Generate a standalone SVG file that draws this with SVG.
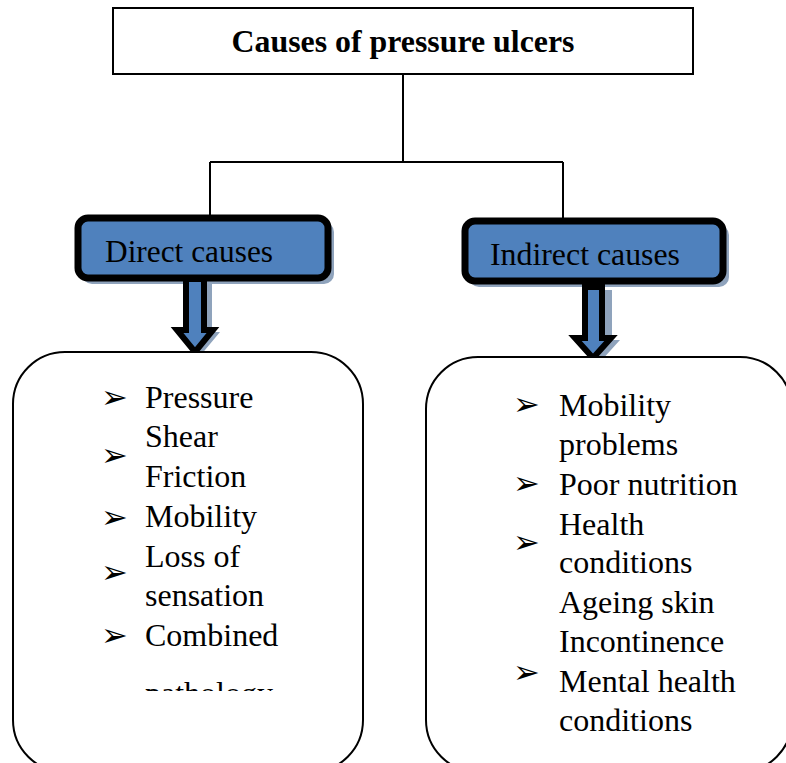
<svg xmlns="http://www.w3.org/2000/svg" width="786" height="763" viewBox="0 0 786 763">
<style>
.t{font-family:"Liberation Serif","Times New Roman","DejaVu Serif",serif;font-size:32px;fill:#000}
.b{font-family:"DejaVu Sans",sans-serif;font-size:32px;fill:#000}
.shadow{fill:#8FA3BC}
.blue{fill:#4F81BD;stroke:#000;stroke-width:7}
.conn{fill:none;stroke:#000;stroke-width:2}
.list{fill:#fff;stroke:#000;stroke-width:2}
</style>
<defs>
<clipPath id="clipL"><rect x="0" y="0" width="786" height="691"/></clipPath>
</defs>
<rect width="786" height="763" fill="#fff"/>
<g id="connectors">
<path class="conn" d="M403 74V162M210 162H563M210 162V216M563 162V219"/>
</g>
<g id="title">
<rect x="113" y="8" width="580" height="66" fill="#fff" stroke="#000" stroke-width="2"/>
<text class="t" x="403" y="52" text-anchor="middle" font-weight="bold" font-size="30" textLength="343" lengthAdjust="spacingAndGlyphs">Causes of pressure ulcers</text>
</g>
<g id="direct">
<rect class="shadow" x="82" y="222" width="252" height="62" rx="10"/>
<rect class="blue" x="78" y="218" width="250" height="60" rx="10"/>
<text class="t" x="105" y="262" textLength="168" lengthAdjust="spacingAndGlyphs">Direct causes</text>
</g>
<g id="direct-arrow">
<path class="shadow" d="M190 284H212V332H220L200 356L184 336Z"/>
<path d="M186 279H204V330H213L195 352L177 330H186Z" fill="#4F81BD" stroke="#000" stroke-width="6" stroke-linejoin="miter"/>
</g>
<g id="indirect">
<rect class="shadow" x="469" y="225" width="260" height="62" rx="10"/>
<rect class="blue" x="465" y="221" width="258" height="60" rx="10"/>
<text class="t" x="490" y="265" textLength="190" lengthAdjust="spacingAndGlyphs">Indirect causes</text>
</g>
<g id="indirect-arrow">
<path class="shadow" d="M590 290H612V340H620L600 362L584 344Z"/>
<path d="M585 287H602V338H611L593 358L575 338H585Z" fill="#4F81BD" stroke="#000" stroke-width="6" stroke-linejoin="miter"/>
</g>
<g id="direct-list">
<rect class="list" x="13" y="352" width="350" height="420" rx="52"/>
<text class="b" x="101" y="408">➢</text>
<text class="b" x="101" y="466">➢</text>
<text class="b" x="101" y="528">➢</text>
<text class="b" x="101" y="583">➢</text>
<text class="b" x="101" y="646">➢</text>
<text class="t" x="145" y="408">Pressure</text>
<text class="t" x="145" y="447">Shear</text>
<text class="t" x="145" y="487">Friction</text>
<text class="t" x="145" y="527">Mobility</text>
<text class="t" x="145" y="567">Loss of</text>
<text class="t" x="145" y="606">sensation</text>
<text class="t" x="145" y="646">Combined</text>
<text class="t" x="145" y="704" clip-path="url(#clipL)">pathology</text>
</g>
<g id="indirect-list">
<rect class="list" x="426" y="357" width="366" height="415" rx="52"/>
<text class="b" x="513" y="415">➢</text>
<text class="b" x="513" y="494">➢</text>
<text class="b" x="513" y="553">➢</text>
<text class="b" x="513" y="683">➢</text>
<text class="t" x="559" y="416">Mobility</text>
<text class="t" x="559" y="455">problems</text>
<text class="t" x="559" y="495">Poor nutrition</text>
<text class="t" x="559" y="535">Health</text>
<text class="t" x="559" y="573">conditions</text>
<text class="t" x="559" y="613">Ageing skin</text>
<text class="t" x="559" y="652">Incontinence</text>
<text class="t" x="559" y="692">Mental health</text>
<text class="t" x="559" y="731">conditions</text>
</g>
</svg>
